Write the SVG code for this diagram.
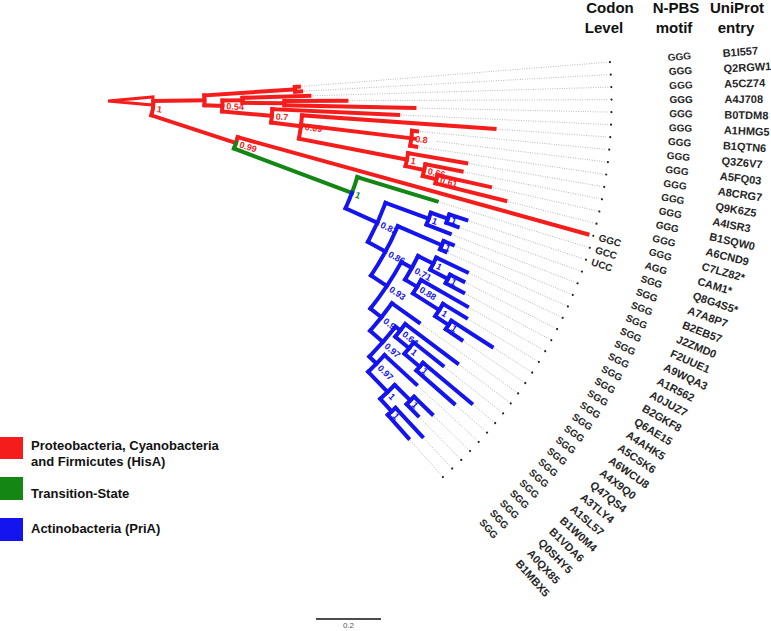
<svg xmlns="http://www.w3.org/2000/svg" width="771" height="631" viewBox="0 0 771 631">
<style>
text{font-family:"Liberation Sans",Arial,sans-serif}
.hd{font-size:15px;font-weight:bold;fill:#111;text-anchor:middle}
.lg{font-size:13px;font-weight:bold;fill:#111}
.m{font-size:10px;font-weight:bold;fill:#262626}
.u{font-size:11px;font-weight:bold;fill:#262626}
.s{font-size:9px;font-weight:bold}
.ld{stroke:#8a8a8a;stroke-width:0.7;stroke-dasharray:0.8 1.6;fill:none}
.dt{fill:#222}
#tree line,#tree circle{stroke-width:4;fill:none;stroke-linecap:square}
.r{stroke:#f51c1c}.g{stroke:#138613}.b{stroke:#1414ee}
.tr{fill:#f51c1c}.tg{fill:#138613}.tb{fill:#1414ee}
</style>
<g id="headers">
<text class="hd" x="610" y="13">Codon</text><text class="hd" x="604" y="32.5">Level</text>
<text class="hd" x="676" y="13">N-PBS</text><text class="hd" x="674" y="32.5">motif</text>
<text class="hd" x="737" y="13">UniProt</text><text class="hd" x="736" y="32.5">entry</text>
</g>
<g transform="translate(109.5 101.7)">
<g id="tips">
<g id="tip0" transform="rotate(-4.53)"><line class="ld" x1="193" x2="499"/><circle class="dt" cx="502" r="1.1"/><text class="m" x="560" y="3.6">GGG</text><text class="u" x="615" y="4">B1I557</text></g>
<g id="tip1" transform="rotate(-3.10)"><line class="ld" x1="195" x2="499"/><circle class="dt" cx="502" r="1.1"/><text class="m" x="560" y="3.6">GGG</text><text class="u" x="615" y="4">Q2RGW1</text></g>
<g id="tip2" transform="rotate(-1.67)"><line class="ld" x1="203" x2="499"/><circle class="dt" cx="502" r="1.1"/><text class="m" x="560" y="3.6">GGG</text><text class="u" x="615" y="4">A5CZ74</text></g>
<g id="tip3" transform="rotate(-0.24)"><line class="ld" x1="240" x2="499"/><circle class="dt" cx="502" r="1.1"/><text class="m" x="560" y="3.6">GGG</text><text class="u" x="615" y="4">A4J708</text></g>
<g id="tip4" transform="rotate(1.19)"><line class="ld" x1="308" x2="499"/><circle class="dt" cx="502" r="1.1"/><text class="m" x="560" y="3.6">GGG</text><text class="u" x="615" y="4">B0TDM8</text></g>
<g id="tip5" transform="rotate(2.62)"><line class="ld" x1="292" x2="499"/><circle class="dt" cx="502" r="1.1"/><text class="m" x="560" y="3.6">GGG</text><text class="u" x="615" y="4">A1HMG5</text></g>
<g id="tip6" transform="rotate(4.05)"><line class="ld" x1="389" x2="499"/><circle class="dt" cx="502" r="1.1"/><text class="m" x="560" y="3.6">GGG</text><text class="u" x="615" y="4">B1QTN6</text></g>
<g id="tip7" transform="rotate(5.48)"><line class="ld" x1="312" x2="499"/><circle class="dt" cx="502" r="1.1"/><text class="m" x="560" y="3.6">GGG</text><text class="u" x="615" y="4">Q3Z6V7</text></g>
<g id="tip8" transform="rotate(6.91)"><line class="ld" x1="330" x2="499"/><circle class="dt" cx="502" r="1.1"/><text class="m" x="560" y="3.6">GGG</text><text class="u" x="615" y="4">A5FQ03</text></g>
<g id="tip9" transform="rotate(8.34)"><line class="ld" x1="313" x2="499"/><circle class="dt" cx="502" r="1.1"/><text class="m" x="560" y="3.6">GGG</text><text class="u" x="615" y="4">A8CRG7</text></g>
<g id="tip10" transform="rotate(9.77)"><line class="ld" x1="365" x2="499"/><circle class="dt" cx="502" r="1.1"/><text class="m" x="560" y="3.6">GGG</text><text class="u" x="615" y="4">Q9K6Z5</text></g>
<g id="tip11" transform="rotate(11.2)"><line class="ld" x1="362" x2="499"/><circle class="dt" cx="502" r="1.1"/><text class="m" x="560" y="3.6">GGG</text><text class="u" x="615" y="4">A4ISR3</text></g>
<g id="tip12" transform="rotate(12.63)"><line class="ld" x1="393" x2="499"/><circle class="dt" cx="502" r="1.1"/><text class="m" x="560" y="3.6">GGG</text><text class="u" x="615" y="4">B1SQW0</text></g>
<g id="tip13" transform="rotate(14.06)"><line class="ld" x1="411" x2="499"/><circle class="dt" cx="502" r="1.1"/><text class="m" x="560" y="3.6">GGG</text><text class="u" x="615" y="4">A6CND9</text></g>
<g id="tip14" transform="rotate(15.49)"><circle class="dt" cx="502" r="1.1"/><text class="m" x="508" y="3.6">GGC</text><text class="m" x="560" y="3.6">GGG</text><text class="u" x="615" y="4">C7LZ82*</text></g>
<g id="tip15" transform="rotate(16.92)"><line class="ld" x1="345" x2="499"/><circle class="dt" cx="502" r="1.1"/><text class="m" x="508" y="3.6">GCC</text><text class="m" x="560" y="3.6">AGG</text><text class="u" x="615" y="4">CAM1*</text></g>
<g id="tip16" transform="rotate(18.35)"><line class="ld" x1="379" x2="499"/><circle class="dt" cx="502" r="1.1"/><text class="m" x="508" y="3.6">UCC</text><text class="m" x="560" y="3.6">SGG</text><text class="u" x="615" y="4">Q8G4S5*</text></g>
<g id="tip17" transform="rotate(19.78)"><line class="ld" x1="373" x2="499"/><circle class="dt" cx="502" r="1.1"/><text class="m" x="560" y="3.6">SGG</text><text class="u" x="615" y="4">A7A8P7</text></g>
<g id="tip18" transform="rotate(21.21)"><line class="ld" x1="368" x2="499"/><circle class="dt" cx="502" r="1.1"/><text class="m" x="560" y="3.6">SGG</text><text class="u" x="615" y="4">B2EB57</text></g>
<g id="tip19" transform="rotate(22.64)"><line class="ld" x1="375" x2="499"/><circle class="dt" cx="502" r="1.1"/><text class="m" x="560" y="3.6">SGG</text><text class="u" x="615" y="4">J2ZMD0</text></g>
<g id="tip20" transform="rotate(24.07)"><line class="ld" x1="371" x2="499"/><circle class="dt" cx="502" r="1.1"/><text class="m" x="560" y="3.6">SGG</text><text class="u" x="615" y="4">F2UUE1</text></g>
<g id="tip21" transform="rotate(25.5)"><line class="ld" x1="399" x2="499"/><circle class="dt" cx="502" r="1.1"/><text class="m" x="560" y="3.6">SGG</text><text class="u" x="615" y="4">A9WQA3</text></g>
<g id="tip22" transform="rotate(26.93)"><line class="ld" x1="400" x2="499"/><circle class="dt" cx="502" r="1.1"/><text class="m" x="560" y="3.6">SGG</text><text class="u" x="615" y="4">A1R562</text></g>
<g id="tip23" transform="rotate(28.36)"><line class="ld" x1="405" x2="499"/><circle class="dt" cx="502" r="1.1"/><text class="m" x="560" y="3.6">SGG</text><text class="u" x="615" y="4">A0JUZ7</text></g>
<g id="tip24" transform="rotate(29.79)"><line class="ld" x1="415" x2="499"/><circle class="dt" cx="502" r="1.1"/><text class="m" x="560" y="3.6">SGG</text><text class="u" x="615" y="4">B2GKF8</text></g>
<g id="tip25" transform="rotate(31.22)"><line class="ld" x1="420" x2="499"/><circle class="dt" cx="502" r="1.1"/><text class="m" x="560" y="3.6">SGG</text><text class="u" x="615" y="4">Q6AE15</text></g>
<g id="tip26" transform="rotate(32.65)"><line class="ld" x1="457" x2="499"/><circle class="dt" cx="502" r="1.1"/><text class="m" x="560" y="3.6">SGG</text><text class="u" x="615" y="4">A4AHK5</text></g>
<g id="tip27" transform="rotate(34.08)"><line class="ld" x1="428" x2="499"/><circle class="dt" cx="502" r="1.1"/><text class="m" x="560" y="3.6">SGG</text><text class="u" x="615" y="4">A5CSK6</text></g>
<g id="tip28" transform="rotate(35.51)"><line class="ld" x1="383" x2="499"/><circle class="dt" cx="502" r="1.1"/><text class="m" x="560" y="3.6">SGG</text><text class="u" x="615" y="4">A6WCU8</text></g>
<g id="tip29" transform="rotate(36.94)"><line class="ld" x1="438" x2="499"/><circle class="dt" cx="502" r="1.1"/><text class="m" x="560" y="3.6">SGG</text><text class="u" x="615" y="4">A4X9Q0</text></g>
<g id="tip30" transform="rotate(38.37)"><line class="ld" x1="428" x2="499"/><circle class="dt" cx="502" r="1.1"/><text class="m" x="560" y="3.6">SGG</text><text class="u" x="615" y="4">Q47QS4</text></g>
<g id="tip31" transform="rotate(39.8)"><line class="ld" x1="474" x2="499"/><circle class="dt" cx="502" r="1.1"/><text class="m" x="560" y="3.6">SGG</text><text class="u" x="615" y="4">A3TLY4</text></g>
<g id="tip32" transform="rotate(41.23)"><line class="ld" x1="461" x2="499"/><circle class="dt" cx="502" r="1.1"/><text class="m" x="560" y="3.6">SGG</text><text class="u" x="615" y="4">A1SL57</text></g>
<g id="tip33" transform="rotate(42.66)"><line class="ld" x1="420" x2="499"/><circle class="dt" cx="502" r="1.1"/><text class="m" x="560" y="3.6">SGG</text><text class="u" x="615" y="4">B1W0M4</text></g>
<g id="tip34" transform="rotate(44.09)"><line class="ld" x1="452" x2="499"/><circle class="dt" cx="502" r="1.1"/><text class="m" x="560" y="3.6">SGG</text><text class="u" x="615" y="4">B1VDA6</text></g>
<g id="tip35" transform="rotate(45.52)"><line class="ld" x1="443" x2="499"/><circle class="dt" cx="502" r="1.1"/><text class="m" x="560" y="3.6">SGG</text><text class="u" x="615" y="4">Q0SHY5</text></g>
<g id="tip36" transform="rotate(46.95)"><line class="ld" x1="461" x2="499"/><circle class="dt" cx="502" r="1.1"/><text class="m" x="560" y="3.6">SGG</text><text class="u" x="615" y="4">A0QX85</text></g>
<g id="tip37" transform="rotate(48.38)"><line class="ld" x1="453" x2="499"/><circle class="dt" cx="502" r="1.1"/><text class="m" x="560" y="3.6">SGG</text><text class="u" x="615" y="4">B1MBX5</text></g>
</g>
<g id="support">
<text class="s tr" x="48" y="3.2" transform="rotate(8.6)">1</text>
<text class="s tr" x="117" y="3.2" transform="rotate(2.19)">0.54</text>
<text class="s tr" x="167" y="3.2" transform="rotate(4.98)">0.7</text>
<text class="s tr" x="197" y="3.2" transform="rotate(7.33)">0.69</text>
<text class="s tr" x="308" y="3.2" transform="rotate(6.91)">0.8</text>
<text class="s tr" x="307" y="3.2" transform="rotate(11.02)">1</text>
<text class="s tr" x="326" y="3.2" transform="rotate(12.27)">0.66</text>
<text class="s tr" x="340" y="3.2" transform="rotate(13.345)">0.61</text>
<text class="s tr" x="137" y="3.2" transform="rotate(18.05)">0.99</text>
<text class="s tg" x="263" y="3.2" transform="rotate(20.6)">1</text>
<text class="s tb" x="298" y="3.2" transform="rotate(24.31)">0.82</text>
<text class="s tb" x="344" y="3.2" transform="rotate(20.14)">1</text>
<text class="s tb" x="362" y="3.2" transform="rotate(19.065)">1</text>
<text class="s tb" x="366" y="3.2" transform="rotate(23.355)">1</text>
<text class="s tb" x="318" y="3.2" transform="rotate(28.48)">0.86</text>
<text class="s tb" x="337" y="3.2" transform="rotate(33.61)">0.93</text>
<text class="s tb" x="349" y="3.2" transform="rotate(28.8)">0.71</text>
<text class="s tb" x="366" y="3.2" transform="rotate(26.57)">1</text>
<text class="s tb" x="386" y="3.2" transform="rotate(27.645)">1</text>
<text class="s tb" x="363" y="3.2" transform="rotate(31.04)">0.88</text>
<text class="s tb" x="394" y="3.2" transform="rotate(32.29)">1</text>
<text class="s tb" x="410" y="3.2" transform="rotate(33.365)">1</text>
<text class="s tb" x="351" y="3.2" transform="rotate(38.415)">0.9</text>
<text class="s tb" x="374" y="3.2" transform="rotate(38.19)">0.64</text>
<text class="s tb" x="392" y="3.2" transform="rotate(39.44)">1</text>
<text class="s tb" x="412" y="3.2" transform="rotate(40.515)">1</text>
<text class="s tb" x="368" y="3.2" transform="rotate(41.32)">0.97</text>
<text class="s tb" x="378" y="3.2" transform="rotate(44.45)">0.97</text>
<text class="s tb" x="406" y="3.2" transform="rotate(46.235)">1</text>
<text class="s tb" x="428" y="3.2" transform="rotate(44.805)">1</text>
<text class="s tb" x="423" y="3.2" transform="rotate(47.665)">1</text>
</g>
<g id="tree">
<polygon points="-1.5,-0.7 43.5,-4.7 43.5,3.3" fill="#fff" stroke="#f51c1c" stroke-width="3"/>
<g class="r">
<circle class="r" r="44" pathLength="360" stroke-dasharray="18.85 400" transform="rotate(-0.8)"/>
<line class="r" x1="44" x2="95" transform="rotate(-0.8)"/>
<line class="r" x1="44" x2="133" transform="rotate(18.05)"/>
<circle class="r" r="95" pathLength="360" stroke-dasharray="6.005 400" transform="rotate(-3.815)"/>
<line class="r" x1="95" x2="186" transform="rotate(-3.815)"/>
<circle class="r" r="186" pathLength="360" stroke-dasharray="1.43 400" transform="rotate(-4.53)"/>
<line class="r" x1="186" x2="190" transform="rotate(-4.53)"/>
<line class="r" x1="186" x2="192" transform="rotate(-3.10)"/>
<line class="r" x1="95" x2="113" transform="rotate(2.19)"/>
<circle class="r" r="113" pathLength="360" stroke-dasharray="5.58 400" transform="rotate(-0.6)"/>
<line class="r" x1="113" x2="133" transform="rotate(-0.6)"/>
<circle class="r" r="133" pathLength="360" stroke-dasharray="2.145 400" transform="rotate(-1.67)"/>
<line class="r" x1="133" x2="200" transform="rotate(-1.67)"/>
<line class="r" x1="133" x2="175" transform="rotate(0.475)"/>
<circle class="r" r="175" pathLength="360" stroke-dasharray="1.43 400" transform="rotate(-0.24)"/>
<line class="r" x1="175" x2="237" transform="rotate(-0.24)"/>
<line class="r" x1="175" x2="305" transform="rotate(1.19)"/>
<line class="r" x1="113" x2="163" transform="rotate(4.98)"/>
<circle class="r" r="163" pathLength="360" stroke-dasharray="4.71 400" transform="rotate(2.62)"/>
<line class="r" x1="163" x2="289" transform="rotate(2.62)"/>
<line class="r" x1="163" x2="193" transform="rotate(7.33)"/>
<circle class="r" r="193" pathLength="360" stroke-dasharray="6.97 400" transform="rotate(4.05)"/>
<line class="r" x1="193" x2="386" transform="rotate(4.05)"/>
<line class="r" x1="193" x2="307" transform="rotate(6.91)"/>
<circle class="r" r="304" pathLength="360" stroke-dasharray="2.86 400" transform="rotate(5.48)"/>
<line class="r" x1="304" x2="309" transform="rotate(5.48)"/>
<line class="r" x1="304" x2="310" transform="rotate(8.34)"/>
<line class="r" x1="193" x2="303" transform="rotate(11.02)"/>
<circle class="r" r="303" pathLength="360" stroke-dasharray="2.5 400" transform="rotate(9.77)"/>
<line class="r" x1="303" x2="362" transform="rotate(9.77)"/>
<line class="r" x1="303" x2="322" transform="rotate(12.27)"/>
<circle class="r" r="322" pathLength="360" stroke-dasharray="2.145 400" transform="rotate(11.2)"/>
<line class="r" x1="322" x2="359" transform="rotate(11.2)"/>
<line class="r" x1="322" x2="336" transform="rotate(13.345)"/>
<circle class="r" r="336" pathLength="360" stroke-dasharray="1.43 400" transform="rotate(12.63)"/>
<line class="r" x1="336" x2="390" transform="rotate(12.63)"/>
<line class="r" x1="336" x2="408" transform="rotate(14.06)"/>
<circle class="r" r="133" pathLength="360" stroke-dasharray="2.56 400" transform="rotate(15.49)"/>
<line class="r" x1="133" x2="496" transform="rotate(15.49)"/>
</g>
<circle class="g" r="133" pathLength="360" stroke-dasharray="2.55 400" transform="rotate(18.05)"/>
<line class="g" x1="133" x2="259" transform="rotate(20.6)"/>
<circle class="g" r="259" pathLength="360" stroke-dasharray="3.68 400" transform="rotate(16.92)"/>
<line class="g" x1="259" x2="342" transform="rotate(16.92)"/>
<circle class="b" r="259" pathLength="360" stroke-dasharray="3.71 400" transform="rotate(20.6)"/>
<line class="b" x1="259" x2="294" transform="rotate(24.31)"/>
<circle class="b" r="294" pathLength="360" stroke-dasharray="8.34 400" transform="rotate(20.14)"/>
<line class="b" x1="294" x2="340" transform="rotate(20.14)"/>
<circle class="b" r="340" pathLength="360" stroke-dasharray="2.145 400" transform="rotate(19.065)"/>
<line class="b" x1="340" x2="358" transform="rotate(19.065)"/>
<circle class="b" r="358" pathLength="360" stroke-dasharray="1.43 400" transform="rotate(18.35)"/>
<line class="b" x1="358" x2="376" transform="rotate(18.35)"/>
<line class="b" x1="358" x2="370" transform="rotate(19.78)"/>
<line class="b" x1="340" x2="365" transform="rotate(21.21)"/>
<line class="b" x1="294" x2="314" transform="rotate(28.48)"/>
<circle class="b" r="314" pathLength="360" stroke-dasharray="10.255 400" transform="rotate(23.355)"/>
<line class="b" x1="314" x2="362" transform="rotate(23.355)"/>
<circle class="b" r="362" pathLength="360" stroke-dasharray="1.43 400" transform="rotate(22.64)"/>
<line class="b" x1="362" x2="372" transform="rotate(22.64)"/>
<line class="b" x1="362" x2="368" transform="rotate(24.07)"/>
<line class="b" x1="314" x2="333" transform="rotate(33.61)"/>
<circle class="b" r="333" pathLength="360" stroke-dasharray="9.615 400" transform="rotate(28.8)"/>
<line class="b" x1="333" x2="345" transform="rotate(28.8)"/>
<circle class="b" r="345" pathLength="360" stroke-dasharray="4.47 400" transform="rotate(26.57)"/>
<line class="b" x1="345" x2="362" transform="rotate(26.57)"/>
<circle class="b" r="362" pathLength="360" stroke-dasharray="2.145 400" transform="rotate(25.5)"/>
<line class="b" x1="362" x2="396" transform="rotate(25.5)"/>
<line class="b" x1="362" x2="382" transform="rotate(27.645)"/>
<circle class="b" r="382" pathLength="360" stroke-dasharray="1.43 400" transform="rotate(26.93)"/>
<line class="b" x1="382" x2="397" transform="rotate(26.93)"/>
<line class="b" x1="382" x2="402" transform="rotate(28.36)"/>
<line class="b" x1="345" x2="359" transform="rotate(31.04)"/>
<circle class="b" r="359" pathLength="360" stroke-dasharray="2.5 400" transform="rotate(29.79)"/>
<line class="b" x1="359" x2="412" transform="rotate(29.79)"/>
<line class="b" x1="359" x2="390" transform="rotate(32.29)"/>
<circle class="b" r="390" pathLength="360" stroke-dasharray="2.145 400" transform="rotate(31.22)"/>
<line class="b" x1="390" x2="417" transform="rotate(31.22)"/>
<line class="b" x1="390" x2="406" transform="rotate(33.365)"/>
<circle class="b" r="406" pathLength="360" stroke-dasharray="1.43 400" transform="rotate(32.65)"/>
<line class="b" x1="406" x2="454" transform="rotate(32.65)"/>
<line class="b" x1="406" x2="425" transform="rotate(34.08)"/>
<line class="b" x1="333" x2="347" transform="rotate(38.415)"/>
<circle class="b" r="347" pathLength="360" stroke-dasharray="5.81 400" transform="rotate(35.51)"/>
<line class="b" x1="347" x2="380" transform="rotate(35.51)"/>
<line class="b" x1="347" x2="364" transform="rotate(41.32)"/>
<circle class="b" r="364" pathLength="360" stroke-dasharray="6.26 400" transform="rotate(38.19)"/>
<line class="b" x1="364" x2="370" transform="rotate(38.19)"/>
<circle class="b" r="370" pathLength="360" stroke-dasharray="2.5 400" transform="rotate(36.94)"/>
<line class="b" x1="370" x2="435" transform="rotate(36.94)"/>
<line class="b" x1="370" x2="388" transform="rotate(39.44)"/>
<circle class="b" r="388" pathLength="360" stroke-dasharray="2.145 400" transform="rotate(38.37)"/>
<line class="b" x1="388" x2="425" transform="rotate(38.37)"/>
<line class="b" x1="388" x2="408" transform="rotate(40.515)"/>
<circle class="b" r="408" pathLength="360" stroke-dasharray="1.43 400" transform="rotate(39.8)"/>
<line class="b" x1="408" x2="471" transform="rotate(39.8)"/>
<line class="b" x1="408" x2="458" transform="rotate(41.23)"/>
<line class="b" x1="364" x2="374" transform="rotate(44.45)"/>
<circle class="b" r="374" pathLength="360" stroke-dasharray="3.575 400" transform="rotate(42.66)"/>
<line class="b" x1="374" x2="417" transform="rotate(42.66)"/>
<line class="b" x1="374" x2="402" transform="rotate(46.235)"/>
<circle class="b" r="402" pathLength="360" stroke-dasharray="2.86 400" transform="rotate(44.805)"/>
<line class="b" x1="402" x2="424" transform="rotate(44.805)"/>
<circle class="b" r="424" pathLength="360" stroke-dasharray="1.43 400" transform="rotate(44.09)"/>
<line class="b" x1="424" x2="449" transform="rotate(44.09)"/>
<line class="b" x1="424" x2="440" transform="rotate(45.52)"/>
<line class="b" x1="402" x2="419" transform="rotate(47.665)"/>
<circle class="b" r="419" pathLength="360" stroke-dasharray="1.43 400" transform="rotate(46.95)"/>
<line class="b" x1="419" x2="458" transform="rotate(46.95)"/>
<line class="b" x1="419" x2="450" transform="rotate(48.38)"/>
</g>
</g>
<g id="legend">
<rect x="0" y="437" width="23" height="22" fill="#f51c1c"/>
<text class="lg" x="31" y="450">Proteobacteria, Cyanobacteria</text>
<text class="lg" x="31" y="466">and Firmicutes (HisA)</text>
<rect x="0" y="477" width="23" height="23" fill="#138613"/>
<text class="lg" x="31" y="498">Transition-State</text>
<rect x="0" y="518" width="23" height="23" fill="#1414ee"/>
<text class="lg" x="31" y="533">Actinobacteria (PriA)</text>
</g>
<g id="scalebar">
<line x1="316" y1="619" x2="381" y2="619" stroke="#111" stroke-width="1.3"/>
<text x="348.5" y="628" font-size="8" fill="#555" text-anchor="middle">0.2</text>
</g>
</svg>
